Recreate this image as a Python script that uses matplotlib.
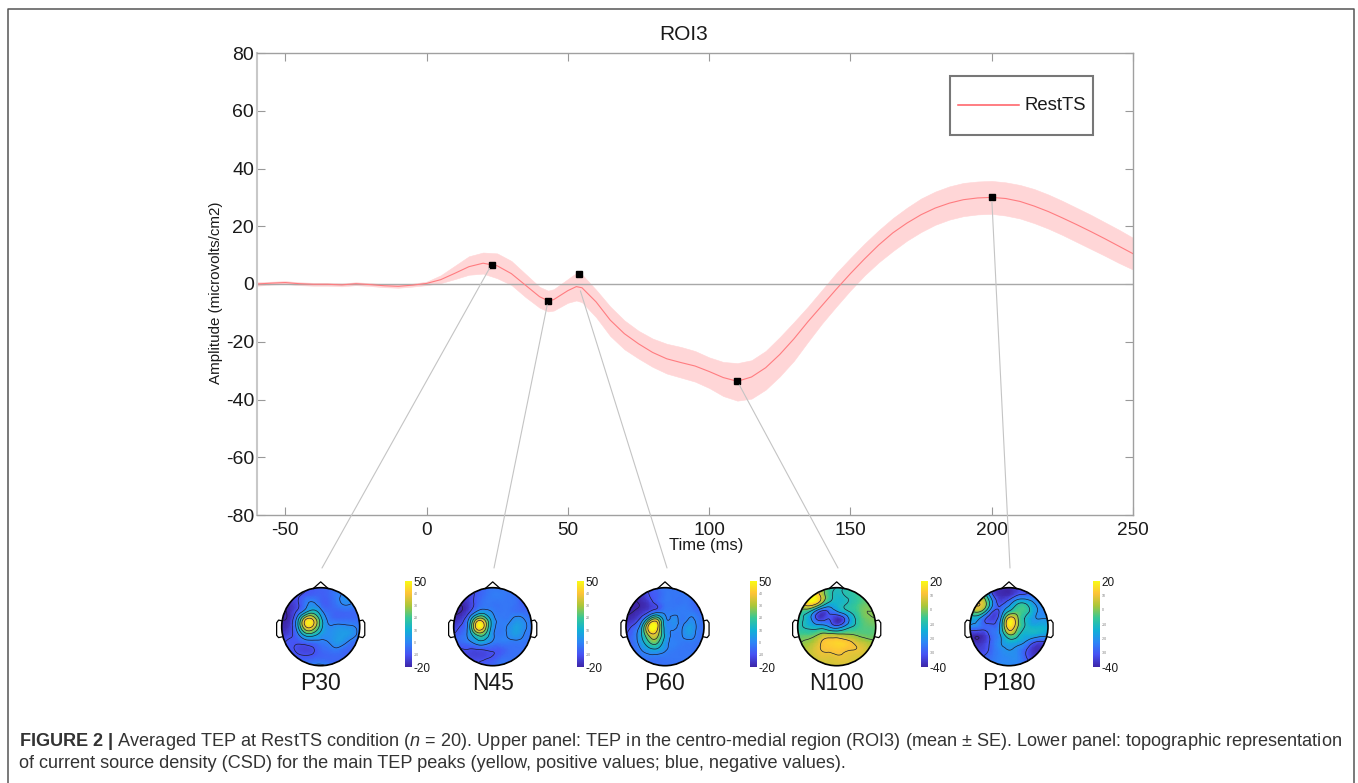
import numpy as np
import matplotlib
matplotlib.use('Agg')
import matplotlib.pyplot as plt
import matplotlib.tri as mtri
from matplotlib.colors import LinearSegmentedColormap
from matplotlib.lines import Line2D
from matplotlib.patches import Circle, ConnectionPatch, Rectangle

plt.rcParams['font.family'] = ['Liberation Sans', 'DejaVu Sans']
plt.rcParams['axes.unicode_minus'] = False
plt.rcParams['mathtext.fontset'] = 'custom'
plt.rcParams['mathtext.rm'] = 'Liberation Sans'
plt.rcParams['mathtext.it'] = 'Liberation Sans:italic'
plt.rcParams['mathtext.bf'] = 'Liberation Sans:bold'

W, H = 1358, 783

# TEP trace
time_ms = [-60, -55, -50, -45, -40, -35, -30, -25, -20, -15, -10, -5, 0, 5, 10, 15, 20, 25, 30, 35, 40, 43, 45,
           50, 53, 55, 60, 65, 70, 75, 80, 85, 90, 95, 100, 105, 110, 115, 120, 125, 130, 135, 140, 145, 150,
           155, 160, 165, 170, 175, 180, 185, 190, 195, 200, 205, 210, 215, 220, 225, 230, 235, 240, 245, 250]
mean_amp = [0.0, 0.3, 0.5, 0.1, -0.1, -0.1, -0.3, 0.1, -0.2, -0.6, -0.8, -0.4, 0.2, 1.5, 3.7, 6.0, 7.2, 6.3, 3.6,
            -0.4, -4.4, -5.8, -5.4, -2.3, -0.9, -1.3, -6.2, -12.5, -17.2, -20.7, -23.7, -25.9, -27.2, -28.4,
            -30.3, -32.4, -33.7, -32.2, -29.0, -24.4, -19.0, -13.0, -7.4, -1.8, 3.6, 8.7, 13.5, 17.7, 21.1,
            24.0, 26.3, 28.0, 29.2, 29.8, 30.0, 29.6, 28.6, 27.0, 25.1, 22.9, 20.6, 18.2, 15.7, 13.1, 10.5]
upper_amp = [0.6, 0.8, 1.0, 0.6, 0.4, 0.4, 0.2, 0.6, 0.3, -0.1, -0.3, 0.1, 0.8, 3.0, 6.3, 9.6, 10.9, 10.6, 8.0,
             3.5, -1.0, -2.3, -1.8, 1.7, 3.8, 3.3, -2.0, -7.8, -12.6, -16.2, -18.9, -20.7, -21.8, -23.2, -25.4,
             -27.0, -27.4, -26.4, -23.2, -18.4, -13.2, -7.8, -2.0, 3.8, 9.0, 14.0, 18.6, 22.8, 26.4, 29.6, 32.0,
             33.8, 35.0, 35.5, 35.7, 35.2, 34.3, 32.9, 31.0, 28.8, 26.4, 24.0, 21.4, 18.8, 16.0]
lower_amp = [-0.6, -0.2, 0.0, -0.4, -0.6, -0.6, -0.8, -0.4, -0.7, -1.1, -1.3, -0.9, -0.4, 0.3, 1.7, 3.2, 3.6, 2.0,
             -0.3, -4.5, -8.2, -9.5, -9.2, -6.5, -5.7, -6.3, -11.5, -18.0, -22.6, -25.8, -28.7, -31.0, -32.4,
             -33.8, -36.0, -38.8, -40.4, -39.7, -36.6, -32.0, -26.6, -20.0, -13.6, -7.8, -2.2, 3.0, 7.5, 11.4,
             15.0, 18.0, 20.5, 22.3, 23.5, 24.1, 24.3, 23.7, 22.7, 21.1, 19.2, 17.0, 14.6, 12.2, 9.8, 7.3, 5.0]

# peak markers and where the leader lines start on the trace
peak_t = [23, 43, 54, 110, 200]
peak_amp = [6.7, -5.8, 3.3, -33.7, 30]
leader_amp = [6.7, -5.8, -1.0, -33.7, 30]
peak_names = ['P30', 'N45', 'P60', 'N100', 'P180']

# topographies, coarse values (rows front to back, left to right)
p30_map = [[-14, -13, -11, -10, -8, -7, -6, -3, -1, -1, -2],
           [-15, -13, -11, -8, -6, -7, -6, -2, 1, 1, -1],
           [-18, -16, -11, -3, 1, -5, -7, -3, 1, 0, -2],
           [-20, -18, -9, 4, 13, 3, -5, -6, -5, -5, -5],
           [-20, -17, 4, 36, 38, 14, -2, -5, -5, -5, -5],
           [-19, -15, 6, 38, 38, 15, 1, 2, 2, 1, -3],
           [-16, -12, -3, 14, 15, 6, 2, 4, 5, 3, -3],
           [-12, -9, -9, -6, -4, -2, 0, 4, 2, -3, -5],
           [-10, -9, -11, -13, -11, -6, -4, -2, -5, -6, -6],
           [-8, -8, -8, -8, -7, -6, -6, -6, -6, -6, -6],
           [-7, -7, -6, -4, 0, 2, -2, -5, -6, -6, -6]]
n45_map = [[-16, -15, -12, -9, -5, -3, -3, -3, -5, -6, -6],
           [-18, -16, -13, -8, -4, -2, -2, -3, -5, -10, -11],
           [-20, -19, -14, -7, -3, -3, -3, -3, -4, -8, -11],
           [-21, -20, -12, 0, 3, -1, -3, -3, -4, -5, -7],
           [-19, -14, 2, 30, 26, 4, -2, -2, 2, 0, -3],
           [-15, -9, 8, 46, 36, 5, -2, 1, 6, 2, -2],
           [-10, -5, 4, 22, 20, 2, -2, 1, 5, 0, -3],
           [-8, -5, -2, 5, 5, -1, -2, -2, -2, -3, -4],
           [-13, -11, -11, -11, -10, -9, -8, -5, -4, -4, -4],
           [-12, -12, -12, -12, -11, -9, -5, -4, -4, -4, -4],
           [-10, -10, -10, -10, -8, -6, -4, -4, -4, -4, -4]]
p60_map = [[-15, -15, -13, -10, -5, -3, -3, -3, -3, -5, -6],
           [-19, -18, -16, -10, -7, -3, -3, -3, -3, -5, -7],
           [-21, -21, -19, -14, -8, -3, -3, -3, -3, -7, -10],
           [-21, -20, -17, -11, -5, -2, -2, -2, -2, -4, -7],
           [-19, -16, -6, 18, 28, 3, 2, -2, 0, -1, -4],
           [-15, -8, 8, 46, 44, 6, 1, -1, 5, 0, -4],
           [-10, -4, 10, 34, 34, 8, -1, -1, 4, -1, -4],
           [-7, -4, 6, 20, 22, 5, -1, -2, -2, -3, -5],
           [-6, -5, 0, 6, 7, 1, -2, -3, -3, -4, -5],
           [-5, -4, -3, -3, -3, -3, -3, -3, -3, -4, -5],
           [-4, -4, -4, -4, -4, -4, -4, -4, -4, -4, -4]]
n100_map = [[-2, 0, 8, 5, -6, -10, -10, -8, -6, -5, -5],
            [5, 12, 18, 8, -6, -12, -10, -8, -5, -4, -4],
            [8, 14, 16, 2, -12, -13, -11, -8, -4, -2, -2],
            [0, -5, -15, -30, -28, -20, -13, -8, -3, 0, 0],
            [-5, -12, -24, -34, -30, -38, -30, -14, -5, -1, 0],
            [-8, -11, -14, -15, -20, -26, -18, -10, -5, -3, -2],
            [-5, -4, -3, 2, 3, 2, 1, 0, -2, -3, -2],
            [-1, 1, 4, 10, 13, 14, 13, 10, 6, 3, 1],
            [1, 4, 7, 10, 11, 12, 11, 10, 9, 6, 3],
            [2, 5, 6, 8, 8, 9, 9, 8, 7, 6, 4],
            [3, 5, 6, 6, 7, 7, 7, 7, 6, 6, 5]]
p180_map = [[-22, -22, -25, -35, -38, -38, -34, -30, -28, -25, -25],
            [-2, 2, -8, -30, -38, -37, -30, -28, -26, -24, -22],
            [6, 10, 2, -22, -32, -24, -12, -10, -18, -22, -22],
            [-4, 3, -10, -30, -26, -10, -4, -6, -14, -22, -22],
            [-15, -18, -30, -34, -18, 14, 4, -10, -18, -20, -20],
            [-22, -24, -28, -28, -14, 16, 3, -10, -14, -14, -16],
            [-36, -38, -34, -26, -18, 0, -6, -14, -14, -16, -18],
            [-35, -38, -34, -26, -20, -15, -16, -20, -28, -32, -30],
            [-32, -34, -32, -26, -22, -20, -22, -28, -36, -38, -34],
            [-28, -30, -28, -25, -23, -22, -22, -28, -34, -36, -32],
            [-26, -26, -25, -24, -22, -22, -24, -26, -30, -32, -30]]
topo_maps = [p30_map, n45_map, p60_map, n100_map, p180_map]
topo_ranges = [(-20, 50), (-20, 50), (-20, 50), (-40, 20), (-40, 20)]

# pixel layout of the lower panel
head_cx = [320.7, 492.7, 665, 836.7, 1009]
head_cy = 626.7
head_r = 39
cbar_x = [405, 577, 750, 921, 1093]
leader_end_x = [322, 494, 667, 838, 1010]
leader_end_y = 568

parula = LinearSegmentedColormap.from_list('parula', [
    (0.2422, 0.1504, 0.6603), (0.2810, 0.3228, 0.9579), (0.1786, 0.5289, 0.9682),
    (0.0689, 0.6948, 0.8394), (0.2161, 0.7843, 0.5923), (0.6720, 0.7793, 0.2227),
    (0.9970, 0.7659, 0.2199), (0.9769, 0.9839, 0.0805)])


def px_axes(left, top, right, bottom, **kw):
    # axes from image pixels (y measured from the top)
    return fig.add_axes([left / W, 1 - bottom / H, (right - left) / W, (bottom - top) / H], **kw)


fig = plt.figure(figsize=(W / 100, H / 100), dpi=100)

# outer frame of the figure box
fig.add_artist(Line2D(np.array([8, 8, 1354, 1354]) / W, 1 - np.array([790, 9, 9, 790]) / H,
                      color='#555555', lw=1.1))

# main trace
ax = px_axes(257, 53, 1133, 515)
ax.fill_between(time_ms, lower_amp, upper_amp, color='#ffd6d7', lw=0.4)
ax.axhline(0, color='#a8a8a8', lw=1)
ax.plot(time_ms, mean_amp, color='#ff7c80', lw=0.8)
ax.plot(peak_t, peak_amp, ls='none', marker='s', ms=4.5, color='black', zorder=6)
ax.set_xlim(-60, 250)
ax.set_ylim(-80, 80)
ax.set_xticks(range(-50, 251, 50))
ax.set_yticks(range(-80, 81, 20))
ax.tick_params(direction='in', length=6, width=0.8, color='#999999', labelcolor='#1a1a1a', top=True, right=True)
ax.tick_params(axis='x', labelsize=13.7, pad=5)
ax.tick_params(axis='y', labelsize=14, pad=2)
ax.spines['left'].set_color('#c8c8c8')
ax.spines['left'].set_linewidth(1.5)
for side in ['top', 'right', 'bottom']:
    ax.spines[side].set_color('#a0a0a0')
    ax.spines[side].set_linewidth(1)
ax.set_title('ROI3', fontsize=15, color='#1a1a1a', x=(684 - 257) / 876, pad=9)
ax.set_xlabel('Time (ms)', fontsize=12, color='#1a1a1a', x=(706 - 257) / 876, labelpad=-1)
ax.set_ylabel('Amplitude (microvolts/cm2)', fontsize=10.9, color='#1a1a1a', y=(515 - 293) / 462, labelpad=2)

# legend box
fig.add_artist(Rectangle((950 / W, 1 - 135 / H), 143 / W, 59 / H, transform=fig.transFigure,
                         fc='white', ec='#777777', lw=1.5, zorder=5))
fig.add_artist(Line2D([958 / W, 1019 / W], [1 - 105 / H] * 2, color='#ff5a60', lw=1.1, zorder=6))
fig.text(1024 / W, 1 - 106 / H, 'RestTS', fontsize=13.3, color='#1a1a1a', va='center', zorder=6)

# leader lines from the peaks to the maps
for t, amp, ex in zip(peak_t, leader_amp, leader_end_x):
    fig.add_artist(ConnectionPatch((t, amp), (ex, H - leader_end_y), coordsA='data', coordsB='figure pixels',
                                   axesA=ax, color='#c4c4c4', lw=0.8, zorder=4, shrinkA=3, shrinkB=0))

# topographic maps
grid = np.linspace(-1, 1, 11)
gx, gy = np.meshgrid(grid, grid[::-1])
base_tri = mtri.Triangulation(gx.ravel(), gy.ravel())
refiner = mtri.UniformTriRefiner(base_tri)

for i in range(5):
    vmin, vmax = topo_ranges[i]
    cx = head_cx[i]
    span = head_r * 1.3
    tax = px_axes(cx - span, head_cy - span, cx + span, head_cy + span)
    tax.set_xlim(-1.3, 1.3)
    tax.set_ylim(-1.3, 1.3)
    tax.axis('off')

    z = np.array(topo_maps[i], dtype=float).ravel()
    interp = mtri.CubicTriInterpolator(base_tri, z, kind='min_E')
    fine_tri, fine_z = refiner.refine_field(z, triinterpolator=interp, subdiv=4)
    clip = Circle((0, 0), 1, transform=tax.transData)
    mesh = tax.tripcolor(fine_tri, fine_z, shading='gouraud', cmap=parula, vmin=vmin, vmax=vmax)
    mesh.set_clip_path(clip)
    lines = tax.tricontour(fine_tri, fine_z, levels=np.arange(vmin, vmax, 10), colors='#1c1c30',
                           linewidths=0.5, negative_linestyles='solid')
    lines.set_clip_path(clip)

    # head outline, nose and ears
    tax.add_patch(Circle((0, 0), 1, fc='none', ec='black', lw=1.2))
    tax.plot([-0.19, 0, 0.19], [0.98, 1.15, 0.98], color='black', lw=0.9)
    tax.plot([-0.99, -1.08, -1.13, -1.13, -1.08, -0.99], [0.15, 0.17, 0.1, -0.22, -0.28, -0.26], color='black', lw=0.9)
    tax.plot([0.99, 1.08, 1.13, 1.13, 1.08, 0.99], [0.15, 0.17, 0.1, -0.22, -0.28, -0.26], color='black', lw=0.9)

    fig.text(cx / W, 1 - 684 / H, peak_names[i], fontsize=16.5, color='#1a1a1a', ha='center', va='center')

    # colour bar
    cax = px_axes(cbar_x[i], 581, cbar_x[i] + 7, 667)
    cax.imshow(np.linspace(vmax, vmin, 256)[:, None], aspect='auto', cmap=parula, vmin=vmin, vmax=vmax,
               extent=[0, 1, vmin, vmax])
    cax.set_xticks([])
    ticks = list(range(vmin, vmax + 1, 10))
    cax.yaxis.tick_right()
    cax.set_yticks(ticks)
    cax.set_yticklabels([str(v) for v in ticks])
    cax.tick_params(length=0, pad=1)
    for lab, v in zip(cax.get_yticklabels(), ticks):
        if v in (vmin, vmax):
            lab.set_fontsize(8.5)
            lab.set_color('#1a1a1a')
        else:
            lab.set_fontsize(2.5)
            lab.set_color('#777777')
    for s in cax.spines.values():
        s.set_visible(False)

# caption
caption_1 = (r'$\mathbf{FIGURE\ 2\ |}$ Averaged TEP at RestTS condition ($\mathit{n}$ = 20). Upper panel: TEP in the '
             'centro-medial region (ROI3) (mean \u00b1 SE). Lower panel: topographic representation')
caption_2 = ('of current source density (CSD) for the main TEP peaks (yellow, positive values; blue, negative values).')
fig.text(19 / W, 1 - 741 / H, caption_1, fontsize=13.02, color='#333333', va='center')
fig.text(19 / W, 1 - 763 / H, caption_2, fontsize=13.02, color='#333333', va='center')

plt.savefig('out.png', dpi=100)
